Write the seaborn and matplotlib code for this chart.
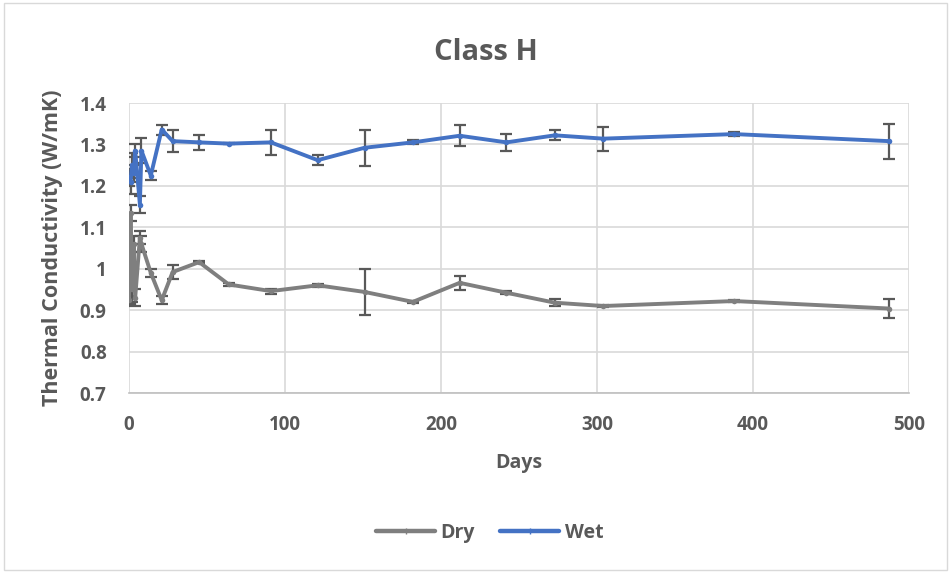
import matplotlib
matplotlib.use("Agg")
import matplotlib.pyplot as plt
import seaborn as sns
import pandas as pd
from matplotlib.ticker import FuncFormatter, MultipleLocator
from matplotlib.patches import Rectangle
from matplotlib.lines import Line2D

days = [0, 1, 2, 3, 4, 7, 8, 14, 21, 28, 45, 64, 91, 121, 151, 182, 212, 242, 273, 304, 388, 487]
wet = [1.22, 1.21, 1.25, 1.23, 1.285, 1.155, 1.285, 1.225, 1.336, 1.308, 1.305, 1.302,
       1.305, 1.262, 1.292, 1.305, 1.321, 1.305, 1.322, 1.314, 1.325, 1.308]
wet_err = [0.02, 0.03, 0.03, 0.02, 0.015, 0.02, 0.03, 0.01, 0.012, 0.026, 0.019, 0.002,
           0.03, 0.012, 0.043, 0.005, 0.025, 0.021, 0.012, 0.029, 0.004, 0.042]
dry = [0.925, 1.135, 0.95, 1.06, 0.93, 1.075, 1.06, 0.99, 0.924, 0.992, 1.016, 0.962,
       0.946, 0.96, 0.944, 0.92, 0.966, 0.942, 0.918, 0.910, 0.922, 0.904]
dry_err = [0.01, 0.02, 0.03, 0.02, 0.02, 0.015, 0.02, 0.01, 0.01, 0.016, 0.003, 0.004,
           0.006, 0.003, 0.055, 0.003, 0.017, 0.004, 0.009, 0.003, 0.002, 0.022]
series_names = ["Dry", "Wet"]
colors = {"Dry": "#7f7f7f", "Wet": "#4472c4"}

sns.set_style("white")
plt.rcParams['font.family'] = ['Open Sans', 'DejaVu Sans']

df = pd.concat([
    pd.DataFrame({"Days": days, "k": dry, "err": dry_err, "Series": "Dry"}),
    pd.DataFrame({"Days": days, "k": wet, "err": wet_err, "Series": "Wet"}),
], ignore_index=True)

fig = plt.figure(figsize=(9.51, 5.72), dpi=100)
ax = fig.add_axes([0.1356, 0.3129, 0.8202, 0.507])

for name in series_names:
    sub = df[df["Series"] == name]
    ax.errorbar(sub["Days"], sub["k"], yerr=sub["err"], fmt="none",
                ecolor="#595959", elinewidth=1.6, capsize=4, capthick=1.6, zorder=3)

sns.lineplot(data=df, x="Days", y="k", hue="Series", palette=colors, sort=False,
             estimator=None, marker="o", markersize=4, markeredgewidth=0,
             linewidth=2.8, ax=ax, zorder=4, legend=False)

ax.set_xlim(0, 500)
ax.set_ylim(0.7, 1.4)
ax.xaxis.set_major_locator(MultipleLocator(100))
ax.yaxis.set_major_locator(MultipleLocator(0.1))
ax.yaxis.set_major_formatter(FuncFormatter(lambda v, p: f"{v:.1f}".rstrip("0").rstrip(".")))
ax.grid(True, color="#d9d9d9", linewidth=1.2)
ax.set_axisbelow(True)
for s in ["top", "right", "left"]:
    ax.spines[s].set_visible(False)
ax.spines["bottom"].set_color("#bfbfbf")
ax.spines["bottom"].set_linewidth(1.2)
ax.tick_params(axis="both", length=0, labelsize=13.5, labelcolor="#595959")
ax.tick_params(axis="x", pad=16)
ax.tick_params(axis="y", pad=16)
for lab in ax.get_xticklabels() + ax.get_yticklabels():
    lab.set_fontweight("bold")

ax.set_xlabel("Days", fontsize=14, fontweight="bold", color="#595959", labelpad=13)
ax.set_ylabel("Thermal Conductivity (W/mK)", fontsize=15.5, fontweight="bold",
              color="#595959", labelpad=12)
fig.text(0.511, 0.909, "Class H", ha="center", va="center", fontsize=21,
         fontweight="bold", color="#595959")

handles = [Line2D([0], [0], color=colors[n], lw=3.2, marker="+", markersize=4,
                  markeredgewidth=1) for n in series_names]
fig.legend(handles, series_names, loc="center", bbox_to_anchor=(0.515, 0.068), ncol=2,
           frameon=False, handlelength=3.0, handletextpad=0.3, columnspacing=1.3,
           labelcolor="#595959", prop={"family": ["Open Sans", "DejaVu Sans"],
                                       "weight": "bold", "size": 14})

fig.patches.append(Rectangle((0.004, 0.004), 0.992, 0.99, transform=fig.transFigure,
                             fill=False, edgecolor="#d9d9d9", linewidth=1))

fig.savefig("out.png", dpi=100)
